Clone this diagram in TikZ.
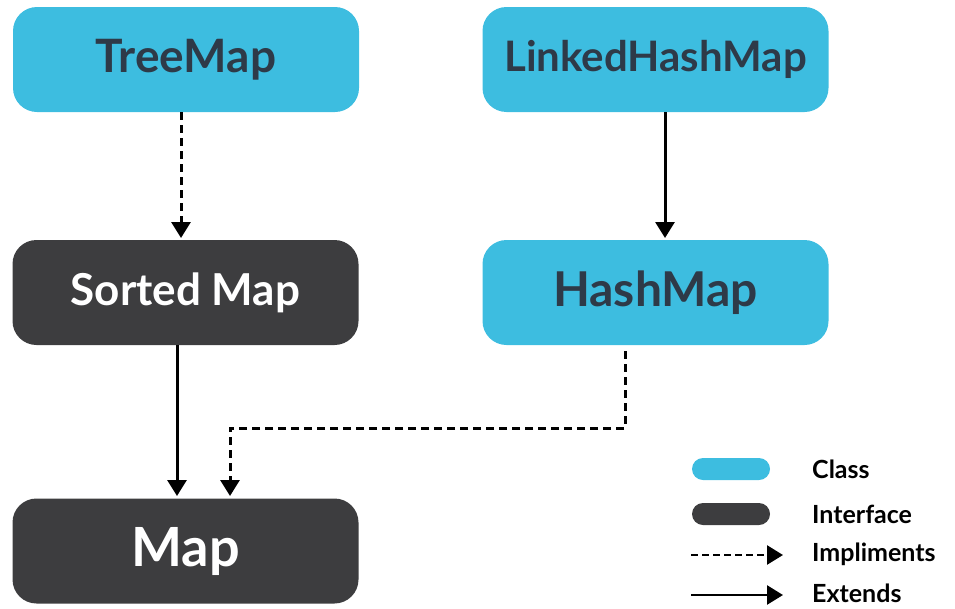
\documentclass[tikz,border=0pt]{standalone}
\usepackage{fontspec}
\setmainfont{Lato}
\usetikzlibrary{arrows.meta}
\definecolor{classblue}{HTML}{3DBDE0}
\definecolor{ifacegray}{HTML}{3D3D3F}
\definecolor{labeldark}{HTML}{2E3A48}
\tikzset{
  box/.style={rounded corners=24pt, minimum width=346pt, minimum height=105pt, inner sep=0pt},
  classbox/.style={box, fill=classblue, text=labeldark},
  ifacebox/.style={box, fill=ifacegray, text=white},
  conn/.style={line width=3pt, -{Triangle[width=19pt,length=16pt]}},
  impl/.style={conn, dash pattern=on 8pt off 5pt},
  pill/.style={rounded corners=11pt, minimum width=78pt, minimum height=22pt, inner sep=0pt},
  legtext/.style={anchor=west, font=\fontsize{25}{27}\selectfont\bfseries, text=black, inner sep=0pt}
}
\begin{document}
\begin{tikzpicture}[x=1pt,y=-1pt]
\useasboundingbox (0,0) rectangle (955,608);

% class / interface boxes
\node[classbox, font=\fontsize{46}{50}\selectfont\bfseries] (tree) at (186,59.5) {TreeMap};
\node[classbox, font=\fontsize{42}{46}\selectfont\bfseries] (lhm) at (655.5,59.5) {LinkedHashMap};
\node[ifacebox, font=\fontsize{44}{48}\selectfont\bfseries] (sorted) at (185.5,292.5) {Sorted Map};
\node[classbox, font=\fontsize{48}{52}\selectfont\bfseries] (hash) at (655.5,292.5) {HashMap};
\node[ifacebox, font=\fontsize{54}{58}\selectfont\bfseries] (map) at (185.5,551) {Map};

% connectors
\coordinate (tt) at (181,112);
\coordinate (tb) at (181,238);
\draw[impl] (tt) -- (tb);
\coordinate (lt) at (665,112);
\coordinate (lb) at (665,238);
\draw[conn] (lt) -- (lb);
\coordinate (st) at (177,345);
\coordinate (sb) at (177,496);
\draw[conn] (st) -- (sb);
\coordinate (ht) at (625,351);
\coordinate (hc) at (625,428);
\coordinate (mc) at (230,428);
\coordinate (mb) at (230,496);
\draw[impl] (ht) -- (hc) -- (mc) -- (mb);

% legend
\node[pill, fill=classblue] (lclass) at (731,469) {};
\node[pill, fill=ifacegray] (liface) at (731,514) {};
\coordinate (li0) at (691,555);
\coordinate (li1) at (783,555);
\draw[impl, line width=2.6pt, dash pattern=on 7pt off 4pt] (li0) -- (li1);
\coordinate (le0) at (691,595);
\coordinate (le1) at (783,595);
\draw[conn, line width=2.6pt] (le0) -- (le1);
\node[legtext] (tclass) at (812,469) {Class};
\node[legtext] (tiface) at (812,514) {Interface};
\node[legtext] (timpl) at (812,554) {Impliments};
\node[legtext] (text) at (812,593) {Extends};
\end{tikzpicture}
\end{document}
